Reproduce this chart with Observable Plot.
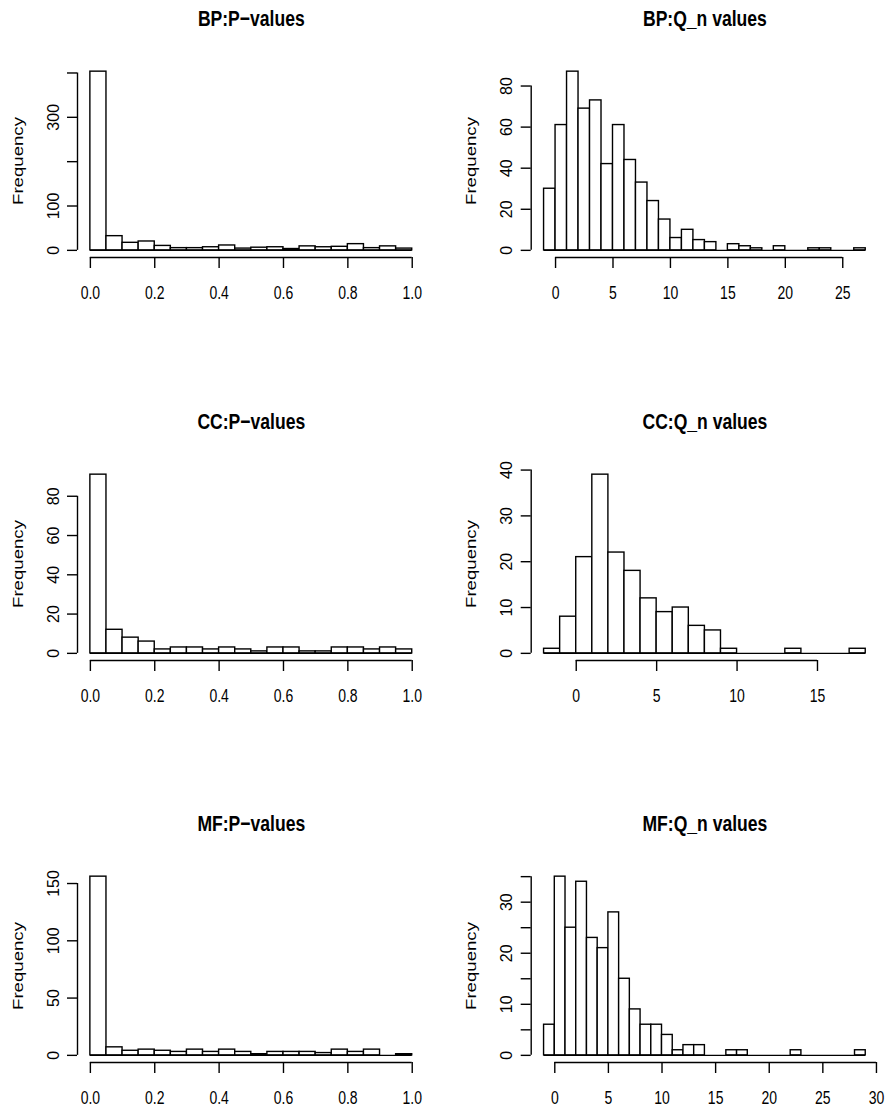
<!DOCTYPE html>
<html>
<head>
<meta charset="utf-8">
<script src="https://cdn.jsdelivr.net/npm/d3@7"></script>
<script src="https://cdn.jsdelivr.net/npm/@observablehq/plot@0.6"></script>
<style>
  body { margin: 0; background: #fff; }
  #chart { position: relative; width: 886px; height: 1111px; background: #fff; overflow: hidden; }
</style>
</head>
<body>
<div id="chart"></div>
<script>
// ---- Data ----
const titles = ["BP:P\u2212values", "BP:Q_n values", "CC:P\u2212values", "CC:Q_n values", "MF:P\u2212values", "MF:Q_n values"];

const pBreaks = [0, 0.05, 0.1, 0.15, 0.2, 0.25, 0.3, 0.35, 0.4, 0.45, 0.5, 0.55, 0.6, 0.65, 0.7, 0.75, 0.8, 0.85, 0.9, 0.95, 1];
const bpQBreaks = [-1, 0, 1, 2, 3, 4, 5, 6, 7, 8, 9, 10, 11, 12, 13, 14, 15, 16, 17, 18, 19, 20, 21, 22, 23, 24, 25, 26, 27];
const ccQBreaks = [-2, -1, 0, 1, 2, 3, 4, 5, 6, 7, 8, 9, 10, 11, 12, 13, 14, 15, 16, 17, 18];
const mfQBreaks = [-1, 0, 1, 2, 3, 4, 5, 6, 7, 8, 9, 10, 11, 12, 13, 14, 15, 16, 17, 18, 19, 20, 21, 22, 23, 24, 25, 26, 27, 28, 29];

const bpPCounts = [403, 32, 17, 20, 10, 5, 5, 7, 11, 4, 6, 7, 3, 9, 7, 8, 14, 5, 9, 4];
const bpQCounts = [30, 61, 87, 69, 73, 42, 61, 44, 33, 24, 15, 6, 10, 5, 4, 0, 3, 2, 1, 0, 2, 0, 0, 1, 1, 0, 0, 1];
const ccPCounts = [91, 12, 8, 6, 2, 3, 3, 2, 3, 2, 1, 3, 3, 1, 1, 3, 3, 2, 3, 2];
const ccQCounts = [1, 8, 21, 39, 22, 18, 12, 9, 10, 6, 5, 1, 0, 0, 0, 1, 0, 0, 0, 1];
const mfPCounts = [156, 7, 4, 5, 4, 3, 5, 3, 5, 3, 1, 3, 3, 3, 2, 5, 3, 5, 0, 1];
const mfQCounts = [6, 35, 25, 34, 23, 21, 28, 15, 9, 6, 6, 4, 1, 2, 2, 0, 0, 1, 1, 0, 0, 0, 0, 1, 0, 0, 0, 0, 0, 1];

// tick values and labelled ticks
const pXTicks = [0, 0.2, 0.4, 0.6, 0.8, 1.0];
const bpQXTicks = [0, 5, 10, 15, 20, 25];
const ccQXTicks = [0, 5, 10, 15];
const mfQXTicks = [0, 5, 10, 15, 20, 25, 30];

const bpPYTicks = [0, 100, 200, 300, 400];
const bpPYLabels = [0, 100, 300];
const bpQYTicks = [0, 20, 40, 60, 80];
const bpQYLabels = [0, 20, 40, 60, 80];
const ccPYTicks = [0, 20, 40, 60, 80];
const ccPYLabels = [0, 20, 40, 60, 80];
const ccQYTicks = [0, 10, 20, 30, 40];
const ccQYLabels = [0, 10, 20, 30, 40];
const mfPYTicks = [0, 50, 100, 150];
const mfPYLabels = [0, 50, 100, 150];
const mfQYTicks = [0, 5, 10, 15, 20, 25, 30, 35];
const mfQYLabels = [0, 10, 20, 30];

const yLabel = "Frequency";

// ---- Panels ----
const panels = [
  {title: titles[0], breaks: pBreaks, counts: bpPCounts, xTicks: pXTicks, yTicks: bpPYTicks, yLabels: bpPYLabels, fmt: d3.format(".1f")},
  {title: titles[1], breaks: bpQBreaks, counts: bpQCounts, xTicks: bpQXTicks, yTicks: bpQYTicks, yLabels: bpQYLabels, fmt: d3.format("d")},
  {title: titles[2], breaks: pBreaks, counts: ccPCounts, xTicks: pXTicks, yTicks: ccPYTicks, yLabels: ccPYLabels, fmt: d3.format(".1f")},
  {title: titles[3], breaks: ccQBreaks, counts: ccQCounts, xTicks: ccQXTicks, yTicks: ccQYTicks, yLabels: ccQYLabels, fmt: d3.format("d")},
  {title: titles[4], breaks: pBreaks, counts: mfPCounts, xTicks: pXTicks, yTicks: mfPYTicks, yLabels: mfPYLabels, fmt: d3.format(".1f")},
  {title: titles[5], breaks: mfQBreaks, counts: mfQCounts, xTicks: mfQXTicks, yTicks: mfQYTicks, yLabels: mfQYLabels, fmt: d3.format("d")}
];

const font = "'Liberation Sans', Arial, Helvetica, sans-serif";
const SW = 1.4;

const container = document.getElementById("chart");

function condenseText(t, factor, fixedLength) {
  const L = t.getComputedTextLength();
  if (!L) return;
  t.setAttribute("textLength", fixedLength != null ? fixedLength : L * factor);
  t.setAttribute("lengthAdjust", "spacingAndGlyphs");
}

panels.forEach((p, i) => {
  const col = i % 2, row = Math.floor(i / 2);
  const left = col === 0 ? 0 : 443;
  const top = row * 402.5;
  const marginLeft = col === 0 ? 77 : 87.7;
  const marginRight = col === 0 ? 18.4 : 7.9;

  const bins = p.counts.map((c, k) => ({x1: p.breaks[k], x2: p.breaks[k + 1], count: c}));
  const bx0 = p.breaks[0], bx1 = p.breaks[p.breaks.length - 1];
  const xr = bx1 - bx0;
  const xDomain = [bx0 - 0.04 * xr, bx1 + 0.04 * xr];
  const ymax = d3.max(p.counts);
  const yDomain = [-0.04 * ymax, 1.04 * ymax];
  const labelSet = new Set(p.yLabels);

  const svg = Plot.plot({
    width: 443,
    height: 306,
    marginTop: 64,
    marginBottom: 49,
    marginLeft,
    marginRight,
    x: {domain: xDomain},
    y: {domain: yDomain},
    style: {background: "white", color: "black", overflow: "visible", fontFamily: font},
    marks: [
      Plot.ruleY([0], {x1: bx0, x2: bx1, stroke: "black", strokeWidth: SW}),
      Plot.rect(bins, {x1: "x1", x2: "x2", y1: 0, y2: "count", fill: "white", stroke: "black", strokeWidth: SW}),
      // axis lines (R style: from first to last tick)
      Plot.ruleY([yDomain[0]], {x1: p.xTicks[0], x2: p.xTicks[p.xTicks.length - 1], stroke: "black", strokeWidth: SW}),
      Plot.ruleX([xDomain[0]], {y1: p.yTicks[0], y2: p.yTicks[p.yTicks.length - 1], stroke: "black", strokeWidth: SW}),
      Plot.axisX({ticks: p.xTicks, tickSize: 11, tickPadding: 18, tickFormat: p.fmt, fontSize: 17.5, fontFamily: font, strokeWidth: SW, label: null}),
      Plot.axisY({ticks: p.yTicks, tickSize: 10, tickPadding: 9, tickRotate: -90, tickFormat: d => labelSet.has(d) ? String(d) : "", fontSize: 16, fontFamily: font, strokeWidth: SW, label: null}),
      Plot.text([p.title], {frameAnchor: "top", lineAnchor: "middle", textAnchor: "middle", dy: -45.7, fontSize: 22.5, fontWeight: "bold", fontFamily: font, fill: "black"}),
      Plot.text([yLabel], {frameAnchor: "left", lineAnchor: "middle", textAnchor: "middle", rotate: -90, dx: -59.7, fontSize: 15.5, fontFamily: font, fill: "black"})
    ]
  });
  svg.style.position = "absolute";
  svg.style.left = left + "px";
  svg.style.top = top + "px";
  svg.style.maxWidth = "none";
  container.appendChild(svg);

  // emulate R's narrow Helvetica rendering
  svg.querySelectorAll('g[aria-label="x-axis tick label"] text').forEach(t => condenseText(t, 0.8));
  svg.querySelectorAll("text").forEach(t => {
    if (t.textContent === p.title) condenseText(t, 0.78);
    else if (t.textContent === yLabel) condenseText(t, 1, 88);
  });
});
</script>
</body>
</html>
